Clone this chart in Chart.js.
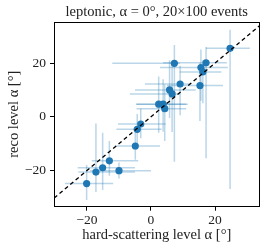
<!DOCTYPE html>
<html>
<head>
<meta charset="utf-8">
<script src="https://cdn.jsdelivr.net/npm/chart.js@4.4.0/dist/chart.umd.min.js"></script>
<style>
  html, body { margin: 0; padding: 0; background: #fff; }
</style>
</head>
<body>
<canvas id="alphaChart" width="266" height="250"></canvas>
<script>
// hard-scattering level alpha (x) and reco level alpha (y), degrees
const hardAlpha = [24.7, 7.3, 17.2, 15.6, 16.2, 9.1, 15.3, 5.8, 6.6, 2.4, 3.8, 4.3, -3.2, -4.3, -4.9, -13.0, -15.1, -17.2, -10.0, -20.1];
const recoAlpha = [25.5, 19.9, 20.1, 18.3, 16.7, 12.2, 11.6, 10.0, 8.5, 4.7, 4.7, 3.0, -2.7, -4.7, -10.9, -16.4, -19.0, -20.6, -20.1, -24.9];
// error bar ends (absolute values)
const hardLow = [17.2, -12.1, 3.8, 2.8, 9, -1.9, 5, -5, -6.6, -4.7, -4.5, -4.5, -10.3, -10.8, -11.3, -18.5, -22.9, -22.7, -19, -26.9];
const hardHigh = [30.9, 9, 23.7, 24, 22, 12.2, 22.5, 14, 9.1, 11.5, 11, 11, 4.6, 3.3, 2.8, -4, -5, -5, 0, -11.8];
const recoLow = [-26.9, -16.8, -15.5, 6, 5, 0.6, -1.6, -0.5, -5.7, -6, -5.6, -9, -8, -11, -16, -22, -27.3, -28, -23, -31];
const recoHigh = [32.4, 26.7, 26, 25, 21, 19, 20, 21, 20, 15, 14, 12, 3, 1, -5, -9, -6, -2.5, -17, -18];
// axis ticks and ranges
const tickValues = [-20, 0, 20];
const xRange = [-30.3, 33.9];
const yRange = [-33.5, 35.4];

const serif = "'Liberation Serif', 'DejaVu Serif', serif";
const blue = "#1f77b4";

const points = hardAlpha.map((x, i) => ({ x: x, y: recoAlpha[i] }));
const diagonal = [
  { x: xRange[0] - 10, y: xRange[0] - 10 },
  { x: xRange[1] + 10, y: xRange[1] + 10 },
];

const fmtTick = (v) => (v < 0 ? "\u2212" + Math.abs(v) : String(v));

// error bars drawn through the chart scales
const errorBars = {
  id: "errorBars",
  beforeDatasetsDraw(chart) {
    const { ctx, chartArea, scales } = chart;
    ctx.save();
    ctx.beginPath();
    ctx.rect(chartArea.left, chartArea.top, chartArea.width, chartArea.height);
    ctx.clip();
    ctx.strokeStyle = "rgba(31,119,180,0.3)";
    ctx.lineWidth = 1.5;
    for (let i = 0; i < hardAlpha.length; i++) {
      const px = scales.x.getPixelForValue(hardAlpha[i]);
      const py = scales.y.getPixelForValue(recoAlpha[i]);
      ctx.beginPath();
      ctx.moveTo(scales.x.getPixelForValue(hardLow[i]), py);
      ctx.lineTo(scales.x.getPixelForValue(hardHigh[i]), py);
      ctx.stroke();
      ctx.beginPath();
      ctx.moveTo(px, scales.y.getPixelForValue(recoLow[i]));
      ctx.lineTo(px, scales.y.getPixelForValue(recoHigh[i]));
      ctx.stroke();
    }
    ctx.restore();
  },
};

// matplotlib style box around the axes
const frame = {
  id: "frame",
  afterDraw(chart) {
    const { ctx, chartArea } = chart;
    ctx.save();
    ctx.strokeStyle = "#000";
    ctx.lineWidth = 1;
    ctx.strokeRect(
      Math.round(chartArea.left) + 0.5,
      Math.round(chartArea.top) + 0.5,
      Math.round(chartArea.width) - 1,
      Math.round(chartArea.height) - 1
    );
    ctx.restore();
  },
};

new Chart(document.getElementById("alphaChart"), {
  type: "scatter",
  data: {
    datasets: [
      {
        label: "events",
        data: points,
        backgroundColor: blue,
        borderWidth: 0,
        pointRadius: 3.6,
        order: 1,
      },
      {
        type: "line",
        label: "diagonal",
        data: diagonal,
        borderColor: "#000",
        borderWidth: 1.3,
        borderDash: [4, 3],
        pointRadius: 0,
        fill: false,
        order: 0,
      },
    ],
  },
  options: {
    responsive: false,
    animation: false,
    events: [],
    layout: { padding: { left: 0, right: 6.5, top: 0, bottom: 0 } },
    plugins: {
      legend: { display: false },
      tooltip: { enabled: false },
      title: {
        display: true,
        fullSize: false,
        text: "leptonic, \u03b1 = 0\u00b0, 20\u00d7100 events",
        color: "#222",
        font: { family: serif, size: 14.5, weight: "normal" },
        padding: { top: 3, bottom: 1.3 },
      },
    },
    scales: {
      x: {
        type: "linear",
        min: xRange[0],
        max: xRange[1],
        afterBuildTicks: (s) => { s.ticks = tickValues.map((v) => ({ value: v })); },
        afterFit: (s) => { s.height = 43.3; },
        grid: { drawOnChartArea: false, drawTicks: true, tickLength: 4, color: "#000" },
        border: { display: false },
        ticks: {
          color: "#222",
          padding: 2,
          maxRotation: 0,
          font: { family: serif, size: 13.5 },
          callback: fmtTick,
        },
        title: {
          display: true,
          text: "hard-scattering level \u03b1 [\u00b0]",
          color: "#222",
          font: { family: serif, size: 14.5 },
          padding: { top: 0, bottom: 6 },
        },
      },
      y: {
        type: "linear",
        min: yRange[0],
        max: yRange[1],
        afterBuildTicks: (s) => { s.ticks = tickValues.map((v) => ({ value: v })); },
        afterFit: (s) => { s.width = 54; },
        grid: { drawOnChartArea: false, drawTicks: true, tickLength: 4, color: "#000" },
        border: { display: false },
        ticks: {
          color: "#222",
          padding: 4,
          font: { family: serif, size: 13.5 },
          callback: fmtTick,
        },
        title: {
          display: true,
          text: "reco level \u03b1 [\u00b0]",
          color: "#222",
          font: { family: serif, size: 14.5 },
          padding: { top: 5, bottom: 0 },
        },
      },
    },
  },
  plugins: [errorBars, frame],
});
</script>
</body>
</html>
